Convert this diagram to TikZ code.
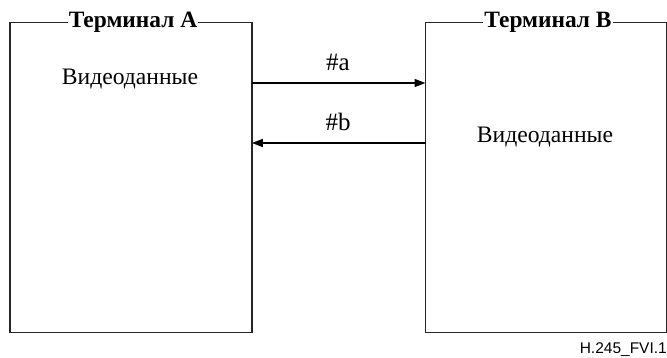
\documentclass[tikz,border=0pt]{standalone}
\usepackage{fontspec}
\setmainfont{Liberation Serif}
\setsansfont{Liberation Sans}
\usetikzlibrary{arrows.meta}
\begin{document}
\begin{tikzpicture}[x=1pt,y=-1pt,
  termbox/.style={draw=black!85,line width=1.2pt},
  titlelbl/.style={fill=white,inner sep=1pt,font=\fontsize{23.4}{26}\selectfont\bfseries},
  datalbl/.style={font=\fontsize{23.6}{27}\selectfont},
  arrlbl/.style={font=\fontsize{25}{28}\selectfont,inner sep=0pt,anchor=base},
  flow/.style={line width=1.5pt,-{Triangle[length=11pt,width=8pt]}}]
\useasboundingbox (0,0) rectangle (667,358);
\node[draw=none,minimum width=241.5pt,minimum height=309.5pt,inner sep=0pt,anchor=north west] (ta) at (10,22.5) {};
\node[draw=none,minimum width=240.5pt,minimum height=309.5pt,inner sep=0pt,anchor=north west] (tb) at (425.5,22.5) {};
\draw[termbox] (ta.north west) rectangle (ta.south east);
\draw[termbox] (tb.north west) rectangle (tb.south east);
\node[titlelbl] (tA) at (133,22.5) {Терминал А};
\node[titlelbl] (tB) at (548,22.5) {Терминал В};
\node[datalbl] (vA) at (130,79) {Видеоданные};
\node[datalbl] (vB) at (545,137) {Видеоданные};
\coordinate (a1) at (ta.east |- 0,83);
\coordinate (a2) at (tb.west |- 0,83);
\coordinate (b1) at (tb.west |- 0,143);
\coordinate (b2) at (ta.east |- 0,143);
\draw[flow] (a1) -- (a2);
\draw[flow] (b1) -- (b2);
\node[arrlbl] (la) at (338,71) {\#a};
\node[arrlbl] (lb) at (338,131) {\#b};
\node[anchor=base east,font=\sffamily\fontsize{15.5}{18}\selectfont,inner sep=0pt] (fig) at (667,353) {H.245\_FVI.1};
\end{tikzpicture}
\end{document}
